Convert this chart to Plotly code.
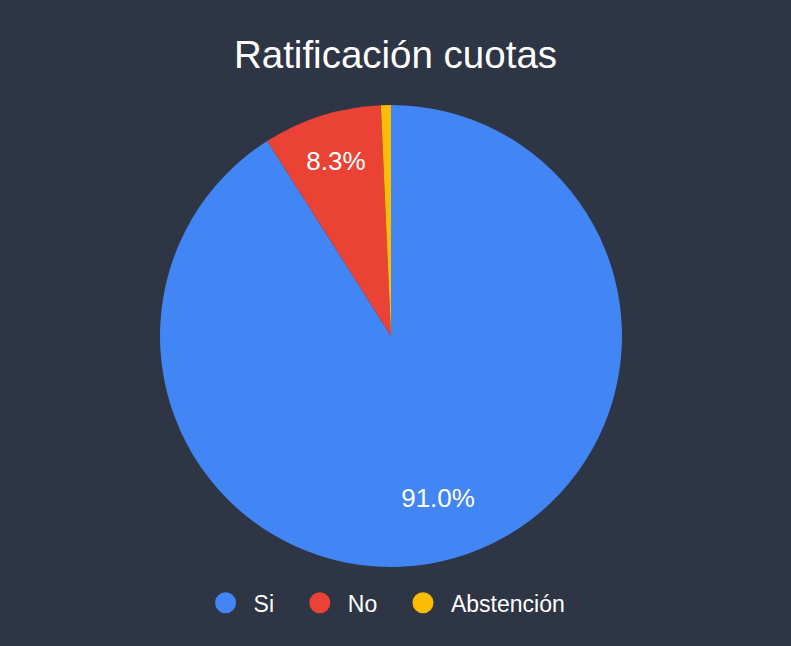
import plotly.graph_objects as go

labels = ["Si", "No", "Abstención"]
values = [91.0, 8.3, 0.7]
inner_text = ["", "8.3%", ""]
ring_text = ["91.0%", "", ""]
colors = ["#4285f4", "#ea4335", "#fbbc04"]
title_text = "Ratificación cuotas"
bg = "#2e3544"
FONT = "Liberation Sans, Arial, sans-serif"

fig = go.Figure()
fig.add_trace(go.Pie(
    labels=labels, values=values, text=inner_text,
    textinfo="text", textposition="inside", insidetextorientation="horizontal",
    sort=False, direction="clockwise", rotation=0,
    marker=dict(colors=colors, line=dict(width=0)),
    textfont=dict(color="white", size=26, family=FONT),
    showlegend=False, hoverinfo="label+percent",
))
# transparent ring overlay used only to place the large slice's label at mid-radius
fig.add_trace(go.Pie(
    labels=labels, values=values, text=ring_text, hole=0.46,
    textinfo="text", textposition="inside", insidetextorientation="horizontal",
    sort=False, direction="clockwise", rotation=0,
    marker=dict(colors=["rgba(0,0,0,0)"] * len(labels), line=dict(width=0)),
    textfont=dict(color="white", size=26, family=FONT),
    showlegend=False, hoverinfo="skip",
))
pad = "\u00a0\u00a0"
for i, (lab, col) in enumerate(zip(labels, colors)):
    fig.add_trace(go.Scatter(
        x=[None], y=[None], mode="markers",
        name=lab + (pad if i < len(labels) - 1 else ""),
        marker=dict(color=col, size=16, symbol="circle", line=dict(color=col, width=5)),
        showlegend=True,
    ))

fig.update_layout(
    width=791, height=646,
    paper_bgcolor=bg, plot_bgcolor=bg,
    margin=dict(l=160, r=169, t=105, b=79),
    title=dict(text=title_text, x=0.5, xanchor="center", y=0.915, yanchor="middle",
               font=dict(color="white", size=38.5, family=FONT)),
    xaxis=dict(visible=False), yaxis=dict(visible=False),
    legend=dict(orientation="h", x=0.485, xanchor="center", y=-0.031, yanchor="top",
                font=dict(color="white", size=23, family=FONT),
                itemwidth=46, bgcolor="rgba(0,0,0,0)"),
)

fig.write_html(
    "out.html",
    config={"displayModeBar": False},
    post_script="document.body.style.margin='0';document.body.style.background='%s';" % bg,
)
